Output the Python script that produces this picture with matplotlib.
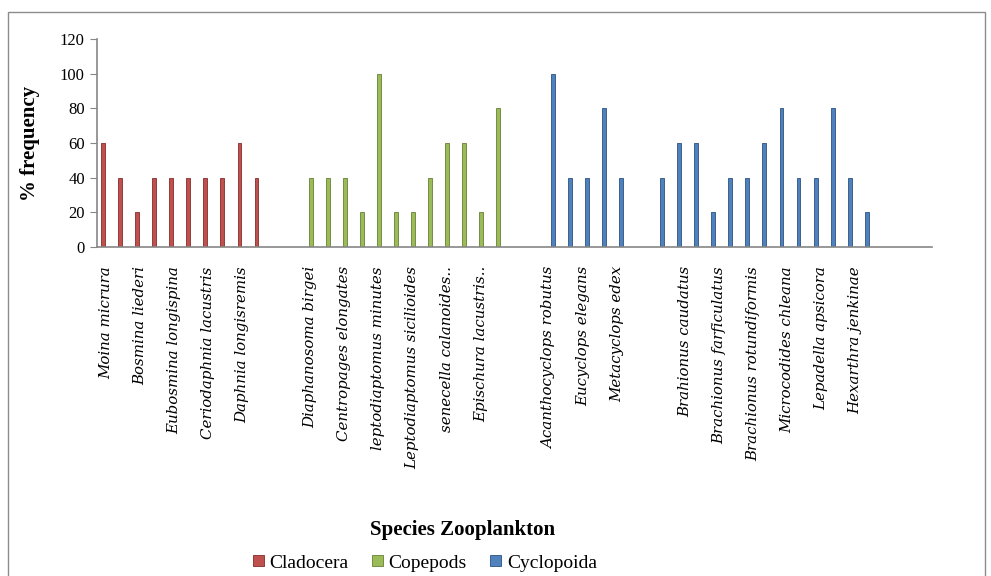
import numpy as np
import matplotlib
matplotlib.use("Agg")
import matplotlib.pyplot as plt
from matplotlib.patches import Rectangle

plt.rcParams["font.family"] = ["Liberation Serif", "DejaVu Serif"]

# % frequency per species, by group
cladocera = [60, 40, 20, 40, 40, 40, 40, 40, 60, 40]
copepods = [40, 40, 40, 20, 100, 20, 20, 40, 60, 60, 20, 80]
cyclopoida = [100, 40, 40, 80, 40]
rotifera = [40, 60, 60, 20, 40, 40, 60, 80, 40, 40, 80, 40, 20]

# only every second category name is printed on the axis
shown_labels = [
    "Moina micrura", "Bosmina liederi", "Eubosmina longispina",
    "Ceriodaphnia lacustris", "Daphnia longisremis", "",
    "Diaphanosoma birgei", "Centropages elongates", "leptodiaptomus minutes",
    "Leptodiaptomus sicilioides", "senecella calanoides..",
    "Epischura lacustris..", "",
    "Acanthocyclops robutus", "Eucyclops elegans", "Metacyclops edex", "",
    "Brahionus caudatus", "Brachionus farficulatus", "Brachionus rotundiformis",
    "Microcodides chleana", "Lepadella apsicora", "Hexarthra jenkinae", "",
    "",
]

RED, GREEN, BLUE = "#c0504d", "#9bbb59", "#4f81bd"
gap = 2
n_total = 49

# series order as in the source workbook (rotifers first), dodge offsets
series = [("rotifera", rotifera, BLUE, None),
          ("cladocera", cladocera, RED, "Cladocera"),
          ("copepods", copepods, GREEN, "Copepods"),
          ("cyclopoida", cyclopoida, BLUE, "Cyclopoida")]
starts = {}
pos = 0
for name, vals in [("cladocera", cladocera), ("copepods", copepods),
                   ("cyclopoida", cyclopoida), ("rotifera", rotifera)]:
    starts[name] = pos
    pos += len(vals) + gap

fig = plt.figure(figsize=(9.91, 5.76), dpi=100)
ax = fig.add_axes([0.0982, 0.5717, 0.8426, 0.3601])

step = 0.195
handles = {}
for j, (name, vals, col, lab) in enumerate(series):
    x = starts[name] + np.arange(len(vals)) + (j - 1.5) * step - 0.06
    edge = tuple(c * 0.75 for c in matplotlib.colors.to_rgb(col))
    b = ax.bar(x, vals, width=0.23, color=col, edgecolor=edge, linewidth=0.7)
    if lab:
        handles[lab] = b

ax.set_xlim(-0.5, n_total - 0.5)
ax.set_ylim(0, 120)
ax.set_yticks(range(0, 121, 20))
ax.tick_params(axis="y", labelsize=12, length=5, color="#868686",
               direction="out", pad=4)
ax.set_xticks(np.arange(0, n_total, 2))
ax.set_xticklabels(shown_labels, rotation=90, fontsize=10.8, style="italic",
                   family=["DejaVu Serif"])
ax.tick_params(axis="x", length=0, pad=14)
for s in ["top", "right"]:
    ax.spines[s].set_visible(False)
for s in ["left", "bottom"]:
    ax.spines[s].set_color("#868686")
    ax.spines[s].set_linewidth(1.2)

ax.set_ylabel("% frequency", fontsize=15, fontweight="bold", labelpad=14)
fig.text(463 / 991, 1 - 530 / 576, "Species Zooplankton", fontsize=15,
         fontweight="bold", ha="center", va="center")

fig.legend([handles[k] for k in ["Cladocera", "Copepods", "Cyclopoida"]],
           ["Cladocera", "Copepods", "Cyclopoida"], loc="center",
           bbox_to_anchor=(425 / 991, 1 - 563 / 576), ncol=3, frameon=False,
           fontsize=14, handlelength=0.55, handleheight=0.55,
           handletextpad=0.3, columnspacing=1.2, borderpad=0.2)

# chart-area border
fig.patches.append(Rectangle((8 / 991, -0.05), 977 / 991, 1.05 - 12 / 576,
                             transform=fig.transFigure, fill=False,
                             edgecolor="#8c8c8c", linewidth=1))

fig.savefig("out.png", dpi=100)
